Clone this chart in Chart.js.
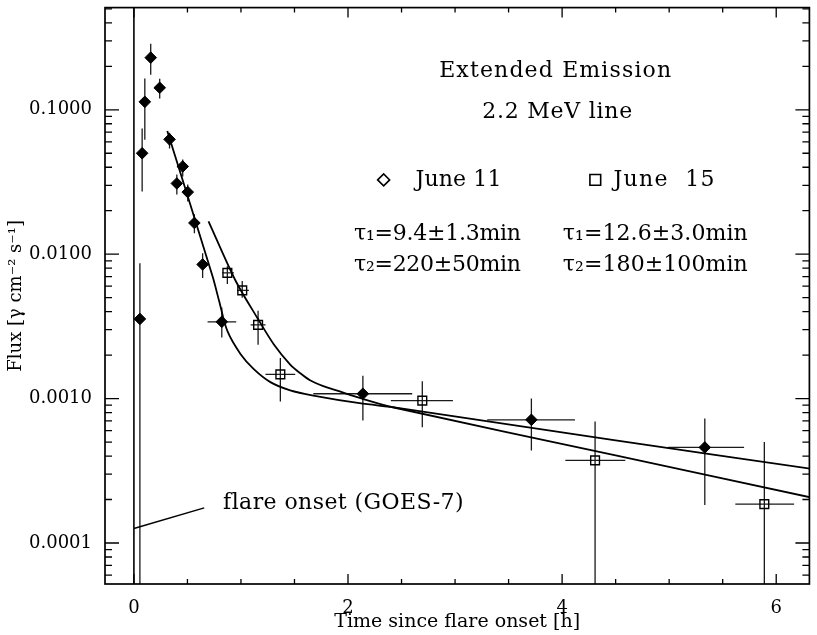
<!DOCTYPE html>
<html><head><meta charset="utf-8">
<script src="https://cdn.jsdelivr.net/npm/chart.js@4.4.0/dist/chart.umd.min.js"></script>
<style>html,body{margin:0;padding:0;background:#fff;}canvas{display:block;}</style>
</head><body>
<canvas id="c" width="817" height="635"></canvas>
<script>
// ---- June 11 (filled diamonds) ----
const june11X   = [0.056, 0.077, 0.102, 0.157, 0.241, 0.333, 0.401, 0.456, 0.503, 0.565, 0.642, 0.821, 2.139, 3.713, 5.333];
const june11Y   = [0.00356, 0.050, 0.1135, 0.2296, 0.142, 0.0624, 0.0309, 0.0405, 0.0269, 0.01645, 0.00849, 0.0034, 0.00108, 0.000713, 0.000459];
const june11YLo = [1e-6, 0.0272, 0.0621, 0.175, 0.1197, 0.054, 0.0259, 0.0345, 0.0232, 0.01396, 0.00683, 0.00265, 0.000705, 0.000437, 0.000183];
const june11YHi = [0.00867, 0.0743, 0.1645, 0.286, 0.164, 0.0694, 0.0356, 0.0452, 0.0304, 0.0189, 0.01016, 0.00427, 0.00144, 0.001, 0.000728];
const june11XLo = [null, null, null, null, null, null, null, null, null, null, null, 0.688, 1.676, 3.30, 4.99];
const june11XHi = [null, null, null, null, null, null, null, null, null, null, null, 0.956, 2.60, 4.12, 5.70];

// ---- June 15 (open squares) ----
const june15X   = [0.873, 1.012, 1.160, 1.368, 2.694, 4.308, 5.889];
const june15Y   = [0.00743, 0.00562, 0.00324, 0.00147, 0.000968, 0.000373, 0.000186];
const june15YLo = [0.00621, 0.0050, 0.00236, 0.000956, 0.000634, 1e-6, 1e-6];
const june15YHi = [0.00826, 0.00652, 0.00405, 0.00191, 0.00132, 0.000694, 0.0005];
const june15XLo = [0.824, 0.963, 1.09, 1.229, 2.40, 4.03, 5.618];
const june15XHi = [0.935, 1.074, 1.23, 1.507, 2.98, 4.59, 6.167];

// ---- fitted curves ----
const fit11X = [0.312, 0.734, 0.796, 0.873, 0.997, 1.120, 1.275, 1.460, 1.676, 2.108, 2.463, 4.5, 6.321];
const fit11Y = [0.0713, 0.00705, 0.00474, 0.00294, 0.00203, 0.0016, 0.00130, 0.00114, 0.00105, 0.000929, 0.000863, 0.000513, 0.000327];
const fit15X = [0.697, 0.951, 1.151, 1.306, 1.460, 1.553, 1.645, 1.769, 1.892, 2.139, 2.417, 4.5, 6.321];
const fit15Y = [0.0169, 0.00652, 0.00364, 0.00238, 0.00172, 0.00150, 0.00134, 0.00122, 0.00114, 0.000995, 0.000871, 0.000404, 0.000207];

// ---- flare onset marker ----
const onsetX = [0, 0];
const onsetY = [1e-6, 10];
const pointerX = [0, 0.657];
const pointerY = [0.000126, 0.000175];

// ---- axes ----
const xTickValues = [0, 2, 4, 6];
const yTickValues = [0.0001, 0.001, 0.01, 0.1];
const xRange = [-0.27, 6.31];
const yRange = [5.2e-5, 0.51];

const FONT = '"DejaVu Serif", serif';

function pts(xs, ys) { return xs.map((x, i) => ({ x: x, y: ys[i] })); }

const errorBars = {
  id: 'errorBars',
  beforeDatasetsDraw(chart) {
    const { ctx, chartArea: a, scales: { x, y } } = chart;
    ctx.save();
    ctx.beginPath();
    ctx.rect(a.left, a.top, a.right - a.left, a.bottom - a.top);
    ctx.clip();
    ctx.strokeStyle = '#1a1a1a';
    ctx.lineWidth = 1.3;
    const draw = (xs, ys, lo, hi, xl, xh) => {
      for (let i = 0; i < xs.length; i++) {
        const px = x.getPixelForValue(xs[i]);
        const py = y.getPixelForValue(ys[i]);
        ctx.beginPath();
        ctx.moveTo(px, y.getPixelForValue(hi[i]));
        ctx.lineTo(px, y.getPixelForValue(lo[i]));
        if (xl[i] != null) {
          ctx.moveTo(x.getPixelForValue(xl[i]), py);
          ctx.lineTo(x.getPixelForValue(xh[i]), py);
        }
        ctx.stroke();
      }
    };
    draw(june11X, june11Y, june11YLo, june11YHi, june11XLo, june11XHi);
    draw(june15X, june15Y, june15YLo, june15YHi, june15XLo, june15XHi);
    ctx.restore();
  }
};

function drawSpaced(ctx, t, px, py, align, width, size) {
  ctx.font = size + 'px ' + FONT;
  ctx.letterSpacing = '0px';
  const nat = ctx.measureText(t).width;
  let sp = width ? (width - nat) / Math.max(1, t.length - 1) : 0;
  if (sp < -1) sp = -1;
  ctx.letterSpacing = sp + 'px';
  ctx.textBaseline = 'middle';
  ctx.textAlign = 'left';
  const w = width || nat;
  const left = align === 'center' ? px - w / 2 : px;
  ctx.fillText(t, left, py);
  ctx.letterSpacing = '0px';
}

const annotations = {
  id: 'annotations',
  afterDatasetsDraw(chart) {
    const { ctx, scales: { x, y } } = chart;
    const items = [
      { t: 'Extended Emission', x: 3.935, y: 0.185, align: 'center', w: 232, s: 22 },
      { t: '2.2 MeV line', x: 3.954, y: 0.0958, align: 'center', w: 150, s: 22 },
      { t: 'June 11', x: 2.63, y: 0.0327, align: 'left', w: 86, s: 22 },
      { t: 'June  15', x: 4.48, y: 0.0327, align: 'left', w: 101, s: 22 },
      { t: 'τ₁=9.4±1.3min', x: 2.056, y: 0.01368, align: 'left', w: 167, s: 22 },
      { t: 'τ₂=220±50min', x: 2.056, y: 0.0084, align: 'left', w: 167, s: 22 },
      { t: 'τ₁=12.6±3.0min', x: 4.006, y: 0.01368, align: 'left', w: 185, s: 22 },
      { t: 'τ₂=180±100min', x: 4.006, y: 0.0084, align: 'left', w: 185, s: 22 },
      { t: 'flare onset (GOES-7)', x: 0.833, y: 0.000189, align: 'left', w: 240, s: 22 }
    ];
    ctx.save();
    ctx.fillStyle = '#000';
    items.forEach(it => drawSpaced(ctx, it.t, x.getPixelForValue(it.x), y.getPixelForValue(it.y), it.align, it.w, it.s));
    // legend symbols
    ctx.strokeStyle = '#000';
    ctx.fillStyle = '#fff';
    ctx.lineWidth = 1.6;
    Chart.helpers.drawPoint(ctx, { pointStyle: 'rectRot', radius: 6, rotation: 0, borderWidth: 1.6 },
      x.getPixelForValue(2.333), y.getPixelForValue(0.0327));
    Chart.helpers.drawPoint(ctx, { pointStyle: 'rect', radius: 7.6, rotation: 0, borderWidth: 1.6 },
      x.getPixelForValue(4.31), y.getPixelForValue(0.0327));
    ctx.restore();
  }
};

const frame = {
  id: 'frame',
  afterDraw(chart) {
    const { ctx, chartArea: a, scales: { x, y } } = chart;
    ctx.save();
    ctx.strokeStyle = '#000';
    ctx.lineWidth = 1.7;
    ctx.strokeRect(a.left, a.top, a.right - a.left, a.bottom - a.top);
    ctx.lineWidth = 1.3;
    ctx.beginPath();
    for (let k = 0; k <= 12; k++) {
      const v = k * 0.5;
      const px = x.getPixelForValue(v);
      const L = (k % 4 === 0) ? 10 : 5;
      ctx.moveTo(px, a.bottom); ctx.lineTo(px, a.bottom - L);
      ctx.moveTo(px, a.top); ctx.lineTo(px, a.top + L);
    }
    for (let e = -5; e <= 0; e++) {
      for (let m = 1; m <= 9; m++) {
        const v = m * Math.pow(10, e);
        if (v < yRange[0] || v > yRange[1]) continue;
        const py = y.getPixelForValue(v);
        const L = m === 1 ? 14 : 7;
        ctx.moveTo(a.left, py); ctx.lineTo(a.left + L, py);
        ctx.moveTo(a.right, py); ctx.lineTo(a.right - L, py);
      }
    }
    ctx.stroke();
    ctx.restore();
  }
};

Chart.defaults.font.family = FONT;
Chart.defaults.color = '#000';

new Chart(document.getElementById('c'), {
  type: 'scatter',
  data: {
    datasets: [
      { data: pts(fit11X, fit11Y), showLine: true, pointRadius: 0, borderColor: '#000', borderWidth: 1.8, tension: 0.3, clip: 0 },
      { data: pts(fit15X, fit15Y), showLine: true, pointRadius: 0, borderColor: '#000', borderWidth: 1.8, tension: 0.3, clip: 0 },
      { data: pts(onsetX, onsetY), showLine: true, pointRadius: 0, borderColor: '#000', borderWidth: 1.6, clip: 0 },
      { data: pts(pointerX, pointerY), showLine: true, pointRadius: 0, borderColor: '#000', borderWidth: 1.5, clip: 0 },
      { data: pts(june11X, june11Y), pointStyle: 'rectRot', pointRadius: 5.8, backgroundColor: '#000', borderColor: '#000', borderWidth: 1, clip: 0 },
      { data: pts(june15X, june15Y), pointStyle: 'rect', pointRadius: 6.2, backgroundColor: 'rgba(0,0,0,0)', borderColor: '#000', borderWidth: 1.4, clip: 0 }
    ]
  },
  options: {
    responsive: false,
    animation: false,
    layout: { padding: { top: 5, right: 2, left: 0, bottom: 0 } },
    plugins: { legend: { display: false }, tooltip: { enabled: false } },
    scales: {
      x: {
        type: 'linear', min: xRange[0], max: xRange[1],
        grid: { display: false }, border: { display: false },
        afterBuildTicks: s => { s.ticks = xTickValues.map(v => ({ value: v })); },
        ticks: { callback: v => String(v), font: { size: 18, family: FONT }, color: '#000', padding: 6, maxRotation: 0, autoSkip: false },
        title: { display: true, text: 'Time since flare onset [h]', font: { size: 19, family: FONT }, color: '#000', padding: { top: 0, bottom: 2 } },
        afterFit: s => { s.height = 51; s.paddingLeft = 0; s.paddingRight = 0; }
      },
      y: {
        type: 'logarithmic', min: yRange[0], max: yRange[1],
        grid: { display: false }, border: { display: false },
        afterBuildTicks: s => { s.ticks = yTickValues.map(v => ({ value: v })); },
        ticks: { callback: v => Number(v).toFixed(4), font: { size: 18, family: FONT }, color: '#000', padding: 5, autoSkip: false },
        title: { display: true, text: 'Flux [γ cm⁻² s⁻¹]', font: { size: 18, family: FONT }, color: '#000', padding: { top: 6, bottom: 0 } },
        afterFit: s => { s.width = 105; s.paddingTop = 0; s.paddingBottom = 0; }
      }
    }
  },
  plugins: [errorBars, annotations, frame]
});
</script>
</body></html>
